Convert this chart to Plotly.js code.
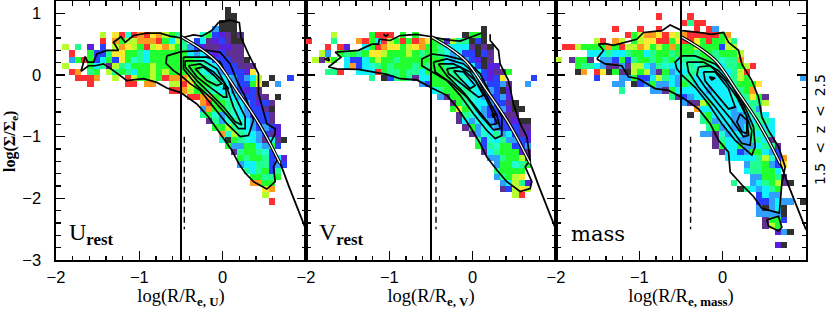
<!DOCTYPE html>
<html><head><meta charset="utf-8">
<script src="https://cdn.plot.ly/plotly-3.0.1.min.js"></script>
<style>html,body{margin:0;padding:0;background:#fff}#c{width:830px;height:309px}</style>
</head><body><div id="c"></div>
<script>
// colour classes along the scale, red (low) to dark (high)
const levelKeys = "roylgmtcabpvk";
const levelColors = ["#ff3030","#ff9a20","#ffe830","#b8ff30","#20ff30","#20ff90","#20ffd0","#10f0ff","#30a0ff","#2840ff","#5a20e0","#603090","#303030"];
const xTicks = [-2,-1,0];
const yTicks = [-3,-2,-1,0,1];
const profileX = [-0.50,-0.27,-0.07,0.168,0.408,0.568,0.688,0.81,1.0];
const profileY = [0.62,0.43,0.21,-0.25,-0.73,-1.11,-1.43,-1.86,-2.51];
const profileCoreN = 7;

// [row from top, first column, cell classes]
const uCells = [
[1,27,"k"],[2,27,"kk"],[3,26,"kkk"],[4,25,"akkk"],
[5,7,"l.yrtroryolgm...tgbpvkv"],
[6,7,"r.ogllooorgcl"],[6,20,"m.bcvpbvkk"],
[7,1,"l.m.p.b.loylgrlyolg"],[7,20,"mabpvvppvv"],
[8,2,"r..gbbmyyggmcggggg"],[8,20,"gcacbpbvvv"],
[9,2,"agrgbcgbygtmcggggg"],[9,20,"ggmtcbbbvvk"],
[10,1,"l...gcmvlmtggglgggg"],[10,20,"gggmtcbbbvvv"],
[11,2,"ro.mg.lmgmcgglglgg"],[11,20,"gggtccabbbpy"],
[12,3,"rrro..l.rlgglgroo"],[12,20,"olggmtccabacl.k..b"],
[13,5,"r.....rr.oo..ll"],[13,20,"rygggmtcabbgyk.a"],
[14,18,"rr"],[14,20,"olggmtccabpbv"],
[15,21,"rroogmtcabbvv.k"],
[16,23,"orggmtcabpbv"],[17,23,"aoggmtcabbvk"],[18,23,"mgtamtcabbbv"],
[19,24,"vmatmtcabbv"],[20,25,"gglmtcababp"],[21,26,"otlmtcabvp"],
[22,26,"tkgmtcavcvk"],[23,27,"gaaggcagb"],[24,28,"vmggmtb"],
[25,29,"gmggmbcp"],[26,29,"accmmbab"],[27,30,"mcmgbm"],[28,31,"ggmmg"],
[29,31,"oogg"],[30,33,"yo"],[31,33,"l"],[32,34,"r"]
];
const vCells = [
[4,28,"k"],
[5,4,"l.....grrr.g.g"],[5,25,"kggk"],
[6,0,"r...m...orgcrlgrgroy"],[6,20,"ggplmmkbk"],
[7,3,"r.rp..cgroyyglyog"],[7,20,"gmccccvkvk"],
[8,2,"la.gmgmgyylggglgmg"],[8,20,"gmtacbbkbv"],
[9,1,"lvlg.cbbcglggmggggg"],[9,20,"ggcacabpkv"],
[10,6,"cobctmgmgggmgm"],[10,20,"ggmtcccbkpp"],
[11,3,"mmr..cccrgmmgmmcg"],[11,20,"gggmtcccbpvvg"],
[12,10,"m.kbmgmvcc"],[12,20,"gggmmtccbpby....b"],
[13,18,"ab"],[13,20,"gggmtcccabbav..a"],
[14,20,"cmgggmtccabkp"],[15,21,"avggmtcabbap"],[16,23,"vgmtccabbvk"],
[17,23,"gygtcabbapkk"],[18,24,"vmtcabbbvv"],[19,24,"vcatcabbvpkk"],
[20,25,"vgatcabbbvv"],[21,26,"vatcmacbvp"],[22,27,"mbtcmaabp"],
[23,27,"gbmtggbba"],[24,28,"vcmgggpv"],[25,29,"aamgglv"],[26,30,"aggtmg"],
[27,30,"mgggg"],[28,30,"amgly"],[29,31,"aclmp"],[30,31,"vblyl"],[31,33,"lr"]
];
const massCells = [
[2,16,"r"],[2,21,"r"],
[3,20,"rmrr"],
[4,9,"r...r..r"],[4,22,"r.ra"],
[5,11,"rglooyryl"],[5,20,"orrrrrgo"],
[6,6,"lr.ol.glyyrrgy"],[6,20,"rrygrgglm"],
[7,1,"rrlggggogrlloyglgog"],[7,20,"gglgggbll"],
[8,5,"cccmccmggcmggmg"],[8,20,"ggmggmgggl"],
[9,0,"l.vggv.aabgbmggmgmgc"],[9,20,"mmmggmtmmo"],
[10,3,"gmmcavvavllcamtcc"],[10,20,"tmtmmtcmmglr"],
[11,3,"ko.rykgvklglavgac"],[11,20,"cmmcttccmlr"],
[12,6,"b...aagbbclmca"],[12,20,"mmccccctmlg........a"],
[13,9,"aa.kbagaaca"],[13,20,"gmccccccmgggy"],
[14,10,"m....aavgc"],[14,20,"ccccaccctmgo"],
[15,18,"mv"],[15,20,"bacccccctmmygv"],
[16,20,"avvlgccccctmml"],[17,22,"occcccacmma"],[18,21,"k.mgcccaactmc"],
[19,23,"mgaccaaacmmc"],[20,24,"mgacaacmmcc"],[21,23,"aavtaccamcmc"],
[22,25,"vmccaammcv"],[23,25,"vgccgaacmmv"],[24,26,"vccbaggcab"],
[25,27,"cccccmltbo"],[26,30,"ammgaby"],[27,30,"cmmggc"],[28,31,"aaggmv"],
[29,28,"m..acmglvk"],[30,29,"kmcacmg"],[31,32,"bcaa"],[32,32,"bbacaa.k"],
[33,32,"akack"],[34,32,"aaaak"],[35,33,"vggb"],[36,33,"vlg"],[37,35,"pak"],[39,35,"pk"]
];

const uContours = [
[[-1.70,0.06],[-1.65,0.30],[-1.62,0.21],[-1.55,0.21],[-1.51,0.34],[-1.39,0.40],[-1.25,0.40],[-1.31,0.53],[-1.22,0.62],[-1.17,0.53],[-1.07,0.64],[-0.91,0.68],[-0.75,0.68],[-0.63,0.63],[-0.50,0.60],[-0.35,0.65],[-0.25,0.63],[-0.13,0.72],[-0.05,0.85],[0.09,0.89],[0.20,0.85],[0.22,0.61],[0.31,0.34],[0.43,0.02],[0.43,-0.30],[0.49,-0.57],[0.53,-0.79],[0.63,-0.87],[0.63,-0.95],[0.57,-1.11],[0.65,-1.38],[0.61,-1.49],[0.63,-1.73],[0.53,-1.85],[0.37,-1.73],[0.27,-1.59],[0.19,-1.43],[0.11,-1.22],[-0.03,-0.95],[-0.17,-0.68],[-0.31,-0.47],[-0.50,-0.29],[-0.67,-0.21],[-0.79,-0.12],[-0.95,-0.06],[-1.15,-0.09],[-1.29,0.05],[-1.43,0.18],[-1.53,0.15],[-1.61,0.15],[-1.70,0.06]],
[[-0.67,0.31],[-0.68,0.19],[-0.59,0.07],[-0.50,-0.01],[-0.39,-0.14],[-0.27,-0.25],[-0.11,-0.52],[0.05,-0.79],[0.21,-1.0],[0.31,-0.98],[0.37,-0.73],[0.29,-0.41],[0.17,-0.09],[0.09,0.18],[-0.03,0.37],[-0.19,0.40],[-0.50,0.38],[-0.67,0.31]],
[[-0.47,0.29],[-0.19,0.29],[-0.03,0.21],[0.05,-0.01],[0.13,-0.30],[0.27,-0.68],[0.27,-0.87],[0.19,-0.87],[0.05,-0.65],[-0.11,-0.41],[-0.31,-0.17],[-0.47,0.10],[-0.47,0.29]],
[[-0.45,0.23],[-0.23,0.23],[-0.07,0.10],[0.05,-0.20],[0.13,-0.52],[0.21,-0.74],[0.23,-0.81],[0.15,-0.76],[0.01,-0.52],[-0.15,-0.30],[-0.31,-0.09],[-0.45,0.13],[-0.45,0.23]],
[[-0.41,0.15],[-0.27,0.18],[-0.11,0.05],[0.03,-0.14],[0.05,-0.36],[0.01,-0.36],[-0.15,-0.20],[-0.31,-0.03],[-0.41,0.15]],
[[-0.33,0.10],[-0.23,0.13],[-0.11,0],[-0.01,-0.14],[-0.07,-0.17],[-0.19,-0.09],[-0.33,0.10]],
[[0.02,-0.14],[0.07,-0.22],[0.01,-0.22],[0.02,-0.14]]
];
const vContours = [
[[0.21,0.66],[0.21,0.56],[0.31,0.40],[0.33,0.18],[0.43,-0.09],[0.49,-0.47],[0.57,-0.79],[0.65,-1.0],[0.69,-1.38],[0.63,-1.49],[0.71,-1.73],[0.69,-1.84],[0.57,-1.89],[0.41,-1.73],[0.29,-1.54],[0.17,-1.33],[0.09,-1.11],[-0.03,-0.84],[-0.19,-0.52],[-0.31,-0.33],[-0.49,-0.21],[-0.67,-0.08],[-0.87,-0.06],[-1.03,0.01],[-1.37,0.09],[-1.63,0.10],[-1.73,0.13],[-1.58,0.29],[-1.65,0.37],[-1.37,0.40],[-1.21,0.50],[-1.13,0.50],[-1.12,0.58],[-0.99,0.56],[-0.87,0.64],[-0.67,0.66],[-0.49,0.62],[-0.31,0.57],[-0.15,0.55],[0.11,0.68]],
[[-1.78,0.26],[-1.73,0.28],[-1.72,0.23],[-1.78,0.26]],
[[-1.07,0.66],[-1.04,0.63],[-1.01,0.66]],
[[-0.49,0.34],[-0.61,0.26],[-0.61,0.15],[-0.49,0.05],[-0.31,-0.09],[-0.15,-0.33],[0.01,-0.63],[0.17,-0.90],[0.27,-1.03],[0.35,-0.98],[0.35,-0.68],[0.21,-0.30],[0.09,0.02],[-0.07,0.23],[-0.31,0.31],[-0.49,0.34]],
[[-0.47,0.21],[-0.31,0.26],[-0.11,0.18],[0.03,0.02],[0.15,-0.30],[0.29,-0.65],[0.33,-0.87],[0.25,-0.89],[0.09,-0.65],[-0.07,-0.36],[-0.27,-0.12],[-0.45,0.05],[-0.47,0.21]],
[[-0.41,0.18],[-0.23,0.18],[-0.03,0.05],[0.11,-0.25],[0.23,-0.57],[0.29,-0.79],[0.21,-0.81],[0.07,-0.57],[-0.11,-0.28],[-0.31,-0.01],[-0.41,0.18]],
[[-0.31,0.10],[-0.15,0.13],[0.03,-0.09],[0.13,-0.33],[0.07,-0.36],[-0.11,-0.17],[-0.29,0.02],[-0.31,0.10]],
[[0.23,-0.63],[0.28,-0.63],[0.25,-0.69],[0.23,-0.63]],
[[-0.23,0.07],[-0.11,0.05],[0.03,-0.17],[-0.03,-0.22],[-0.15,-0.06],[-0.23,0.07]]
];
const massContours = [
[[-1.51,0.26],[-1.43,0.40],[-1.49,0.50],[-1.41,0.51],[-1.31,0.48],[-1.17,0.53],[-1.03,0.58],[-0.95,0.69],[-0.73,0.72],[-0.63,0.81],[-0.49,0.72],[-0.29,0.69],[-0.13,0.66],[0.01,0.69],[0.07,0.53],[0.19,0.40],[0.23,0.18],[0.35,-0.09],[0.43,-0.36],[0.47,-0.68],[0.55,-0.90],[0.67,-1.16],[0.75,-1.49],[0.71,-1.76],[0.69,-2.02],[0.68,-2.24],[0.47,-2.16],[0.37,-1.97],[0.23,-1.78],[0.09,-1.57],[0.07,-1.25],[-0.05,-1.06],[-0.15,-0.79],[-0.29,-0.55],[-0.48,-0.37],[-0.65,-0.25],[-0.81,-0.22],[-1.01,-0.06],[-1.13,-0.03],[-1.21,0.15],[-1.41,0.18],[-1.51,0.26]],
[[0.53,-2.35],[0.67,-2.29],[0.71,-2.47],[0.67,-2.53],[0.55,-2.45],[0.53,-2.35]],
[[-0.49,0.31],[-0.57,0.21],[-0.55,0.10],[-0.49,0],[-0.33,-0.20],[-0.17,-0.47],[-0.01,-0.79],[0.15,-1.06],[0.35,-1.30],[0.39,-1.16],[0.37,-0.84],[0.23,-0.41],[0.07,-0.03],[-0.09,0.18],[-0.33,0.31],[-0.49,0.31]],
[[-0.43,0.21],[-0.23,0.21],[-0.05,0.07],[0.11,-0.17],[0.23,-0.47],[0.35,-0.90],[0.33,-1.14],[0.23,-1.11],[0.07,-0.81],[-0.09,-0.52],[-0.29,-0.20],[-0.41,0.05],[-0.43,0.21]],
[[-0.29,0.13],[-0.15,0.15],[0.03,-0.09],[0.17,-0.36],[0.29,-0.68],[0.31,-0.98],[0.25,-1.0],[0.11,-0.73],[-0.05,-0.47],[-0.21,-0.20],[-0.31,0],[-0.29,0.13]],
[[-0.23,0.05],[-0.09,0.05],[0.07,-0.22],[0.15,-0.52],[0.07,-0.55],[-0.05,-0.36],[-0.21,-0.10],[-0.23,0.05]],
[[0.21,-0.63],[0.29,-0.73],[0.29,-0.95],[0.23,-0.92],[0.17,-0.76],[0.21,-0.63]],
[[-0.16,-0.03],[-0.09,-0.05],[-0.13,-0.08],[-0.16,-0.03]]
];
const dashedX = [-0.46,-0.44,-0.385];

const nCols = 40, nRows = 42, binX = 0.075, binY = 0.1, xLo = -2, yHi = 1.2;
function grid(cells){
  const z = [];
  for(let r=0;r<nRows;r++) z.unshift(new Array(nCols).fill(null));
  cells.forEach(([r,c,s])=>{
    [...s].forEach((ch,i)=>{
      const v = levelKeys.indexOf(ch);
      if(v>=0 && c+i<nCols) z[nRows-1-r][c+i]=v;
    });
  });
  return z;
}
const colorscale = levelColors.map((col,i)=>[i/(levelColors.length-1),col]);
const traces = [];
[uCells,vCells,massCells].forEach((cells,p)=>{
  const s = p===0?"":String(p+1);
  const xa="x"+s, ya="y"+s;
  traces.push({type:"heatmap",z:grid(cells),x0:xLo+binX/2,dx:binX,y0:yHi-binY*(nRows-0.5),dy:binY,
    zmin:0,zmax:levelColors.length-1,colorscale,showscale:false,hoverinfo:"skip",xaxis:xa,yaxis:ya});
  [uContours,vContours,massContours][p].forEach(c=>{
    traces.push({type:"scatter",mode:"lines",x:c.map(q=>q[0]),y:c.map(q=>q[1]),
      line:{color:"#000",width:1.7},xaxis:xa,yaxis:ya,showlegend:false});
  });
  traces.push({type:"scatter",mode:"lines",x:profileX,y:profileY,line:{color:"#000",width:1.8,shape:"spline"},xaxis:xa,yaxis:ya,showlegend:false});
  traces.push({type:"scatter",mode:"lines",x:profileX.slice(0,profileCoreN),y:profileY.slice(0,profileCoreN),line:{color:"#000",width:3.4,shape:"spline"},xaxis:xa,yaxis:ya,showlegend:false});
  traces.push({type:"scatter",mode:"lines",x:profileX.slice(0,profileCoreN),y:profileY.slice(0,profileCoreN),line:{color:"#fff",width:1.3,shape:"spline"},xaxis:xa,yaxis:ya,showlegend:false});
  traces.push({type:"scatter",mode:"lines",x:[-0.5,-0.5],y:[-3,1.2],line:{color:"#000",width:2},xaxis:xa,yaxis:ya,showlegend:false});
  traces.push({type:"scatter",mode:"lines",x:[dashedX[p],dashedX[p]],y:[-1,-2.5],line:{color:"#000",width:1.4,dash:"6px,4px"},xaxis:xa,yaxis:ya,showlegend:false});
});
const W=830,H=309,pw=250,left=56,top_=1,bottom=260;
const axisBase = {showgrid:false,zeroline:false,showline:true,linecolor:"#000",linewidth:1.6,mirror:"ticks",
  ticks:"inside",ticklen:9,tickwidth:1.5,tickcolor:"#000",
  tickfont:{family:"Liberation Sans",size:16.5,color:"#000"},fixedrange:true};
const layout = {width:W,height:H,margin:{l:0,r:0,t:0,b:0},paper_bgcolor:"#fff",plot_bgcolor:"#fff",showlegend:false,annotations:[]};
const serif = "Liberation Serif";
const xTitles = ["log(R/R<sub><b>e, U</b></sub>)","log(R/R<sub><b>e, V</b></sub>)","log(R/R<sub><b>e, mass</b></sub>)"];
for(let p=0;p<3;p++){
  const s = p===0?"":String(p+1);
  layout["xaxis"+s] = Object.assign({},axisBase,{domain:[(left+p*pw)/W,(left+(p+1)*pw)/W],range:[-2,1],anchor:"y"+s,
    ticklabelstandoff:2,tickmode:"array",tickvals:xTicks,minor:{ticks:"inside",tick0:0,dtick:0.2,ticklen:4.5,tickwidth:1.5,tickcolor:"#000",showgrid:false},
    title:{text:xTitles[p],font:{family:serif,size:18.5,color:"#000"},standoff:1}});
  layout["yaxis"+s] = Object.assign({},axisBase,{domain:[1-bottom/H,1-top_/H],range:[-3,1.2],anchor:"x"+s,
    ticklabelstandoff:10,tickmode:"array",tickvals:yTicks,showticklabels:p===0,minor:{ticks:"inside",tick0:0,dtick:0.2,ticklen:4.5,tickwidth:1.5,tickcolor:"#000",showgrid:false}});
}
layout.annotations.push({text:"<b>log(Σ/Σ<sub>e</sub>)</b>",xref:"paper",yref:"paper",x:10/W,y:1-142/H,xanchor:"center",yanchor:"middle",showarrow:false,textangle:-90,
  font:{family:serif,size:16,color:"#000"}});
const labels = [["U<sub><b>rest</b></sub>",67,serif,24],["V<sub><b>rest</b></sub>",317,serif,24],["mass",569,"DejaVu Serif",21]];
labels.forEach(([t,px,f,sz])=>{
  layout.annotations.push({text:t,xref:"paper",yref:"paper",x:px/W,y:1-234/H,xanchor:"left",yanchor:"middle",showarrow:false,
    font:{family:f,size:sz,color:"#000"}});
});
layout.annotations.push({text:"1.5\u00a0\u00a0<\u00a0\u00a0z\u00a0\u00a0<\u00a0\u00a02.5",xref:"paper",yref:"paper",x:820/W,y:1-130/H,xanchor:"center",yanchor:"middle",showarrow:false,textangle:-90,
  font:{family:"DejaVu Sans",size:14,color:"#000"}});
Plotly.newPlot("c",traces,layout,{displayModeBar:false,staticPlot:true});
</script></body></html>
